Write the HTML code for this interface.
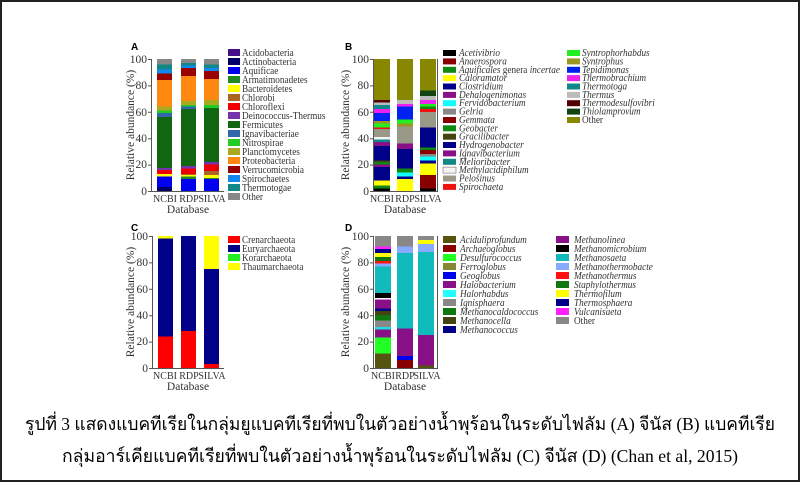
<!DOCTYPE html>
<html><head><meta charset="utf-8"><style>
html,body{margin:0;padding:0;background:#fff}
svg{display:block}
.t{font-family:"Liberation Serif",serif;font-size:11px;fill:#333}
.i{font-style:italic}
.k{font-family:"Liberation Serif",serif;font-size:11.5px;fill:#333}
.x{font-size:10px}
.L{font-family:"Liberation Sans",sans-serif;font-weight:bold;font-size:10px}
</style></head><body>
<svg width="800" height="482" viewBox="0 0 800 482" xmlns="http://www.w3.org/2000/svg">
<rect x="1" y="1" width="798" height="480" fill="#fff" stroke="#222" stroke-width="2"/>

<!-- ============ PANEL A ============ -->
<text class="L" x="131" y="50">A</text>
<g transform="translate(0,191) scale(1,-1.32)" shape-rendering="crispEdges">
<g transform="translate(157,0)">
<rect y="0" height="3" width="15" fill="#000066"/><rect y="3" height="8" width="15" fill="#0000ee"/><rect y="11" height="2" width="15" fill="#ffff00"/><rect y="13" height="3" width="15" fill="#ee0000"/><rect y="16" height="1.5" width="15" fill="#7733aa"/><rect y="17.5" height="38.5" width="15" fill="#116611"/><rect y="56" height="3" width="15" fill="#3366aa"/><rect y="59" height="2" width="15" fill="#22cc22"/><rect y="61" height="3" width="15" fill="#aaaa22"/><rect y="64" height="20" width="15" fill="#ff8811"/><rect y="84" height="5" width="15" fill="#990000"/><rect y="89" height="3" width="15" fill="#1188ee"/><rect y="92" height="4" width="15" fill="#118888"/><rect y="96" height="4" width="15" fill="#888"/>
</g>
<g transform="translate(181,0)">
<rect y="0" height="9" width="15" fill="#0000ee"/><rect y="9" height="2" width="15" fill="#228822"/><rect y="11" height="1" width="15" fill="#ffff00"/><rect y="12" height="1" width="15" fill="#aa6622"/><rect y="13" height="4" width="15" fill="#ee0000"/><rect y="17" height="2" width="15" fill="#7733aa"/><rect y="19" height="43" width="15" fill="#116611"/><rect y="62" height="2" width="15" fill="#3366aa"/><rect y="64" height="1" width="15" fill="#22cc22"/><rect y="65" height="3" width="15" fill="#aaaa22"/><rect y="68" height="19" width="15" fill="#ff8811"/><rect y="87" height="6" width="15" fill="#990000"/><rect y="93" height="2" width="15" fill="#1188ee"/><rect y="95" height="2" width="15" fill="#118888"/><rect y="97" height="3" width="15" fill="#888"/>
</g>
<g transform="translate(204,0)">
<rect y="0" height="9" width="15" fill="#0000ee"/><rect y="9" height="1" width="15" fill="#228822"/><rect y="10" height="2" width="15" fill="#ffff00"/><rect y="12" height="3" width="15" fill="#aa6622"/><rect y="15" height="5" width="15" fill="#ee0000"/><rect y="20" height="2" width="15" fill="#7733aa"/><rect y="22" height="41" width="15" fill="#116611"/><rect y="63" height="2" width="15" fill="#22cc22"/><rect y="65" height="4" width="15" fill="#aaaa22"/><rect y="69" height="16" width="15" fill="#ff8811"/><rect y="85" height="6" width="15" fill="#990000"/><rect y="91" height="2" width="15" fill="#1188ee"/><rect y="93" height="3" width="15" fill="#118888"/><rect y="96" height="4" width="15" fill="#888"/>
</g>
</g>
<g stroke="#555" stroke-width="1" fill="none">
<path d="M151.5 59V191.5H224"/>
<path d="M148 59.5h4M148 85.9h4M148 112.3h4M148 138.7h4M148 165.1h4M148 191.5h4"/>
</g>
<g class="k" text-anchor="end">
<text x="147" y="63">100</text><text x="147" y="89">80</text><text x="147" y="116">60</text><text x="147" y="142">40</text><text x="147" y="168">20</text><text x="147" y="195">0</text>
</g>
<g class="k" text-anchor="middle">
<text class="x" x="165" y="202">NCBI</text><text class="x" x="189" y="202">RDP</text><text class="x" x="212" y="202">SILVA</text><text x="188" y="213">Database</text>
</g>
<text class="k" transform="translate(134,125) rotate(-90)" text-anchor="middle">Relative abundance (%)</text>
<g>
<rect x="228" y="49" width="12" height="7" fill="#441188"/><rect x="228" y="58" width="12" height="7" fill="#000066"/><rect x="228" y="67" width="12" height="7" fill="#0000ee"/><rect x="228" y="76" width="12" height="7" fill="#228822"/><rect x="228" y="85" width="12" height="7" fill="#ffff00"/><rect x="228" y="94" width="12" height="7" fill="#aa6622"/><rect x="228" y="103" width="12" height="7" fill="#ee0000"/><rect x="228" y="112" width="12" height="7" fill="#7733aa"/><rect x="228" y="121" width="12" height="7" fill="#116611"/><rect x="228" y="130" width="12" height="7" fill="#3366aa"/><rect x="228" y="139" width="12" height="7" fill="#22cc22"/><rect x="228" y="148" width="12" height="7" fill="#aaaa22"/><rect x="228" y="157" width="12" height="7" fill="#ff8811"/><rect x="228" y="166" width="12" height="7" fill="#990000"/><rect x="228" y="175" width="12" height="7" fill="#1188ee"/><rect x="228" y="184" width="12" height="7" fill="#118888"/><rect x="228" y="193" width="12" height="7" fill="#888"/>
</g>
<g class="t" transform="translate(242 0) scale(0.84 1) translate(-242 0)">
<text x="242" y="56">Acidobacteria</text><text x="242" y="65">Actinobacteria</text><text x="242" y="74">Aquificae</text><text x="242" y="83">Armatimonadetes</text><text x="242" y="92">Bacteroidetes</text><text x="242" y="101">Chlorobi</text><text x="242" y="110">Chloroflexi</text><text x="242" y="119">Deinococcus-Thermus</text><text x="242" y="128">Fermicutes</text><text x="242" y="137">Ignavibacteriae</text><text x="242" y="146">Nitrospirae</text><text x="242" y="155">Planctomycetes</text><text x="242" y="164">Proteobacteria</text><text x="242" y="173">Verrucomicrobia</text><text x="242" y="182">Spirochaetes</text><text x="242" y="191">Thermotogae</text><text x="242" y="200">Other</text>
</g>

<!-- ============ PANEL B ============ -->
<text class="L" x="345" y="50">B</text>
<g transform="translate(0,191) scale(1,-1.32)" shape-rendering="crispEdges">
<g transform="translate(374,0)">
<rect y="0" height="2" width="16" fill="#000"/><rect y="2" height="2" width="16" fill="#118811"/><rect y="4" height="4" width="16" fill="#ffff00"/><rect y="8" height="10" width="16" fill="#000088"/><rect y="18" height="2" width="16" fill="#881188"/><rect y="20" height="2" width="16" fill="#118811"/><rect y="22" height="1" width="16" fill="#444411"/><rect y="23" height="11" width="16" fill="#000088"/><rect y="34" height="3" width="16" fill="#881188"/><rect y="37" height="2" width="16" fill="#118888"/><rect y="39" height="2" width="16" fill="#f4f4f4"/><rect y="41" height="6" width="16" fill="#999988"/><rect y="47" height="1" width="16" fill="#ee1111"/><rect y="48" height="3" width="16" fill="#22ee22"/><rect y="51" height="2" width="16" fill="#999922"/><rect y="53" height="6" width="16" fill="#0022ee"/><rect y="59" height="3" width="16" fill="#ee22ee"/><rect y="62" height="3" width="16" fill="#118888"/><rect y="65" height="2" width="16" fill="#bbbbbb"/><rect y="67" height="2" width="16" fill="#550000"/><rect y="69" height="31" width="16" fill="#888800"/>
</g>
<g transform="translate(397,0)">
<rect y="0" height="9" width="16" fill="#ffff00"/><rect y="9" height="2" width="16" fill="#000088"/><rect y="11" height="3" width="16" fill="#11ffff"/><rect y="14" height="3" width="16" fill="#118811"/><rect y="17" height="15" width="16" fill="#000088"/><rect y="32" height="4" width="16" fill="#881188"/><rect y="36" height="13" width="16" fill="#999988"/><rect y="49" height="2" width="16" fill="#999922"/><rect y="51" height="3" width="16" fill="#22ee22"/><rect y="54" height="10" width="16" fill="#0022ee"/><rect y="64" height="2" width="16" fill="#ee22ee"/><rect y="66" height="3" width="16" fill="#bbbbbb"/><rect y="69" height="31" width="16" fill="#888800"/>
</g>
<g transform="translate(420,0)">
<rect y="0" height="2" width="16" fill="#000"/><rect y="2" height="10" width="16" fill="#880000"/><rect y="12" height="9" width="16" fill="#ffff00"/><rect y="21" height="2" width="16" fill="#000088"/><rect y="23" height="3" width="16" fill="#11ffff"/><rect y="26" height="2" width="16" fill="#888"/><rect y="28" height="3" width="16" fill="#880000"/><rect y="31" height="2" width="16" fill="#118811"/><rect y="33" height="15" width="16" fill="#000088"/><rect y="48" height="12" width="16" fill="#999988"/><rect y="60" height="2" width="16" fill="#ee1111"/><rect y="62" height="2" width="16" fill="#118811"/><rect y="64" height="2" width="16" fill="#22ee22"/><rect y="66" height="3" width="16" fill="#ee22ee"/><rect y="69" height="3" width="16" fill="#bbbbbb"/><rect y="72" height="4" width="16" fill="#114411"/><rect y="76" height="24" width="16" fill="#888800"/>
</g>
</g>
<g stroke="#555" stroke-width="1" fill="none">
<path d="M373.5 59V191.5H437.5V59"/>
<path d="M370 59.5h4M370 85.9h4M370 112.3h4M370 138.7h4M370 165.1h4M370 191.5h4"/>
</g>
<g class="k" text-anchor="end">
<text x="369" y="63">100</text><text x="369" y="89">80</text><text x="369" y="116">60</text><text x="369" y="142">40</text><text x="369" y="168">20</text><text x="369" y="195">0</text>
</g>
<g class="k" text-anchor="middle">
<text class="x" x="382" y="202">NCBI</text><text class="x" x="405" y="202">RDP</text><text class="x" x="428" y="202">SILVA</text><text x="405" y="213">Database</text>
</g>
<text class="k" transform="translate(349,125) rotate(-90)" text-anchor="middle">Relative abundance (%)</text>
<g>
<rect x="443" y="50" width="13" height="6" fill="#000"/><rect x="443" y="58.4" width="13" height="6" fill="#880000"/><rect x="443" y="66.8" width="13" height="6" fill="#118811"/><rect x="443" y="75.1" width="13" height="6" fill="#ffff00"/><rect x="443" y="83.5" width="13" height="6" fill="#000088"/><rect x="443" y="91.9" width="13" height="6" fill="#881188"/><rect x="443" y="100.2" width="13" height="6" fill="#11ffff"/><rect x="443" y="108.6" width="13" height="6" fill="#888"/><rect x="443" y="117" width="13" height="6" fill="#880000"/><rect x="443" y="125.3" width="13" height="6" fill="#118811"/><rect x="443" y="133.7" width="13" height="6" fill="#444411"/><rect x="443" y="142" width="13" height="6" fill="#000088"/><rect x="443" y="150.4" width="13" height="6" fill="#881188"/><rect x="443" y="158.8" width="13" height="6" fill="#118888"/><rect x="443" y="167.1" width="13" height="6" fill="#f4f4f4" stroke="#555" stroke-width=".5"/><rect x="443" y="175.5" width="13" height="6" fill="#999988"/><rect x="443" y="183.9" width="13" height="6" fill="#ee1111"/>
<rect x="567" y="50" width="13" height="6" fill="#22ee22"/><rect x="567" y="58.4" width="13" height="6" fill="#999922"/><rect x="567" y="66.8" width="13" height="6" fill="#0022ee"/><rect x="567" y="75.1" width="13" height="6" fill="#ee22ee"/><rect x="567" y="83.5" width="13" height="6" fill="#118888"/><rect x="567" y="91.9" width="13" height="6" fill="#bbbbbb"/><rect x="567" y="100.2" width="13" height="6" fill="#550000"/><rect x="567" y="108.6" width="13" height="6" fill="#114411"/><rect x="567" y="117" width="13" height="6" fill="#888800"/>
</g>
<g class="t i" transform="translate(459 0) scale(0.84 1) translate(-459 0)">
<text x="459" y="56">Acetivibrio</text><text x="459" y="64.4">Anaerospora</text><text x="459" y="72.8">Aquificales <tspan font-style="normal">genera</tspan> incertae</text><text x="459" y="81.1">Caloramator</text><text x="459" y="89.5">Clostridium</text><text x="459" y="97.9">Dehalogenimonas</text><text x="459" y="106.2">Fervidobacterium</text><text x="459" y="114.6">Gelria</text><text x="459" y="123">Gemmata</text><text x="459" y="131.3">Geobacter</text><text x="459" y="139.7">Gracilibacter</text><text x="459" y="148">Hydrogenobacter</text><text x="459" y="156.4">Ignavibacterium</text><text x="459" y="164.8">Melioribacter</text><text x="459" y="173.1">Methylacidiphilum</text><text x="459" y="181.5">Pelosinus</text><text x="459" y="189.9">Spirochaeta</text>
</g>
<g class="t i" transform="translate(582 0) scale(0.84 1) translate(-582 0)">
<text x="582" y="56">Syntrophorhabdus</text><text x="582" y="64.4">Syntrophus</text><text x="582" y="72.8">Tepidimonas</text><text x="582" y="81.1">Thermobrachium</text><text x="582" y="89.5">Thermotoga</text><text x="582" y="97.9">Thermus</text><text x="582" y="106.2">Thermodesulfovibri</text><text x="582" y="114.6">Thiolamprovum</text><text x="582" y="123" font-style="normal">Other</text>
</g>

<!-- ============ PANEL C ============ -->
<text class="L" x="131" y="231">C</text>
<g transform="translate(0,368) scale(1,-1.32)" shape-rendering="crispEdges">
<g transform="translate(158,0)"><rect y="0" height="24" width="15" fill="#ff0000"/><rect y="24" height="74" width="15" fill="#000088"/><rect y="98" height="2" width="15" fill="#ffff00"/></g>
<g transform="translate(181,0)"><rect y="0" height="28" width="15" fill="#ff0000"/><rect y="28" height="72" width="15" fill="#000088"/></g>
<g transform="translate(204,0)"><rect y="0" height="3" width="15" fill="#ff0000"/><rect y="3" height="72" width="15" fill="#000088"/><rect y="75" height="25" width="15" fill="#ffff00"/></g>
</g>
<g stroke="#555" stroke-width="1" fill="none">
<path d="M152.5 236V368.5H224"/>
<path d="M149 236.5h4M149 262.9h4M149 289.3h4M149 315.7h4M149 342.1h4M149 368.5h4"/>
</g>
<g class="k" text-anchor="end">
<text x="148" y="240">100</text><text x="148" y="266">80</text><text x="148" y="293">60</text><text x="148" y="319">40</text><text x="148" y="345">20</text><text x="148" y="372">0</text>
</g>
<g class="k" text-anchor="middle">
<text class="x" x="165" y="379">NCBI</text><text class="x" x="189" y="379">RDP</text><text class="x" x="212" y="379">SILVA</text><text x="188" y="390">Database</text>
</g>
<text class="k" transform="translate(134,302) rotate(-90)" text-anchor="middle">Relative abundance (%)</text>
<rect x="228" y="236" width="12" height="7" fill="#ff0000"/><rect x="228" y="245" width="12" height="7" fill="#000088"/><rect x="228" y="254" width="12" height="7" fill="#22ee22"/><rect x="228" y="263" width="12" height="7" fill="#ffff00"/>
<g class="t" transform="translate(242 0) scale(0.84 1) translate(-242 0)"><text x="242" y="243">Crenarchaeota</text><text x="242" y="252">Euryarchaeota</text><text x="242" y="261">Korarchaeota</text><text x="242" y="270">Thaumarchaeota</text></g>

<!-- ============ PANEL D ============ -->
<text class="L" x="345" y="231">D</text>
<g transform="translate(0,368) scale(1,-1.32)" shape-rendering="crispEdges">
<g transform="translate(375,0)">
<rect y="0" height="11" width="16" fill="#555511"/><rect y="11" height="12" width="16" fill="#22ff22"/><rect y="23" height="6" width="16" fill="#881188"/><rect y="29" height="2" width="16" fill="#22dddd"/><rect y="31" height="5" width="16" fill="#888"/><rect y="36" height="4" width="16" fill="#117711"/><rect y="40" height="3" width="16" fill="#444411"/><rect y="43" height="2" width="16" fill="#000088"/><rect y="45" height="7" width="16" fill="#881188"/><rect y="52" height="1" width="16" fill="#fff"/><rect y="53" height="4" width="16" fill="#000"/><rect y="57" height="20" width="16" fill="#11bbbb"/><rect y="77" height="2" width="16" fill="#88aaff"/><rect y="79" height="2" width="16" fill="#ff1111"/><rect y="81" height="3" width="16" fill="#117711"/><rect y="84" height="3" width="16" fill="#ffff00"/><rect y="87" height="3" width="16" fill="#000088"/><rect y="90" height="2" width="16" fill="#ff22ff"/><rect y="92" height="8" width="16" fill="#888"/>
</g>
<g transform="translate(397,0)">
<rect y="0" height="6" width="16" fill="#880000"/><rect y="6" height="3" width="16" fill="#0000ee"/><rect y="9" height="21" width="16" fill="#881188"/><rect y="30" height="57" width="16" fill="#11bbbb"/><rect y="87" height="5" width="16" fill="#88aaff"/><rect y="92" height="8" width="16" fill="#888"/>
</g>
<g transform="translate(418,0)">
<rect y="0" height="2" width="16" fill="#555511"/><rect y="2" height="23" width="16" fill="#881188"/><rect y="25" height="63" width="16" fill="#11bbbb"/><rect y="88" height="6" width="16" fill="#88aaff"/><rect y="94" height="3" width="16" fill="#ffff00"/><rect y="97" height="3" width="16" fill="#888"/>
</g>
</g>
<g stroke="#555" stroke-width="1" fill="none">
<path d="M373.5 236V368.5H437.5V236"/>
<path d="M370 236.5h4M370 262.9h4M370 289.3h4M370 315.7h4M370 342.1h4M370 368.5h4"/>
</g>
<g class="k" text-anchor="end">
<text x="369" y="240">100</text><text x="369" y="266">80</text><text x="369" y="293">60</text><text x="369" y="319">40</text><text x="369" y="345">20</text><text x="369" y="372">0</text>
</g>
<g class="k" text-anchor="middle">
<text class="x" x="383" y="379">NCBI</text><text class="x" x="405" y="379">RDP</text><text class="x" x="427" y="379">SILVA</text><text x="405" y="390">Database</text>
</g>
<text class="k" transform="translate(349,302) rotate(-90)" text-anchor="middle">Relative abundance (%)</text>
<g>
<rect x="443" y="236" width="13" height="7" fill="#555511"/><rect x="443" y="245" width="13" height="7" fill="#880000"/><rect x="443" y="254" width="13" height="7" fill="#22ff22"/><rect x="443" y="263" width="13" height="7" fill="#888833"/><rect x="443" y="272" width="13" height="7" fill="#0000ee"/><rect x="443" y="281" width="13" height="7" fill="#881188"/><rect x="443" y="290" width="13" height="7" fill="#22ffff"/><rect x="443" y="299" width="13" height="7" fill="#888"/><rect x="443" y="308" width="13" height="7" fill="#117711"/><rect x="443" y="317" width="13" height="7" fill="#444411"/><rect x="443" y="326" width="13" height="7" fill="#000088"/>
<rect x="556" y="236" width="13" height="7" fill="#881188"/><rect x="556" y="245" width="13" height="7" fill="#000"/><rect x="556" y="254" width="13" height="7" fill="#11bbbb"/><rect x="556" y="263" width="13" height="7" fill="#88aaff"/><rect x="556" y="272" width="13" height="7" fill="#ff1111"/><rect x="556" y="281" width="13" height="7" fill="#117711"/><rect x="556" y="290" width="13" height="7" fill="#ffff00"/><rect x="556" y="299" width="13" height="7" fill="#000088"/><rect x="556" y="308" width="13" height="7" fill="#ff22ff"/><rect x="556" y="317" width="13" height="7" fill="#888"/>
</g>
<g class="t i" transform="translate(460 0) scale(0.84 1) translate(-460 0)">
<text x="460" y="243">Aciduliprofundum</text><text x="460" y="252">Archaeoglobus</text><text x="460" y="261">Desulfurococcus</text><text x="460" y="270">Ferroglobus</text><text x="460" y="279">Geoglobus</text><text x="460" y="288">Halobacterium</text><text x="460" y="297">Halorhabdus</text><text x="460" y="306">Ignisphaera</text><text x="460" y="315">Methanocaldococcus</text><text x="460" y="324">Methanocella</text><text x="460" y="333">Methanococcus</text>
</g>
<g class="t i" transform="translate(574 0) scale(0.84 1) translate(-574 0)">
<text x="574" y="243">Methanolinea</text><text x="574" y="252">Methanomicrobium</text><text x="574" y="261">Methanosaeta</text><text x="574" y="270">Methanothermobacte</text><text x="574" y="279">Methanothermus</text><text x="574" y="288">Staphylothermus</text><text x="574" y="297">Thermofilum</text><text x="574" y="306">Thermosphaera</text><text x="574" y="315">Vulcanisaeta</text><text x="574" y="324" font-style="normal">Other</text>
</g>

<!-- caption -->
<g font-family="'Liberation Serif','DejaVu Serif',serif" font-size="18" fill="#000">
<text x="25" y="430" textLength="750" lengthAdjust="spacingAndGlyphs">รูปที่ 3 แสดงแบคทีเรียในกลุ่มยูแบคทีเรียที่พบในตัวอย่างน้ำพุร้อนในระดับไฟลัม (A)  จีนัส (B) แบคทีเรีย</text>
<text x="62" y="462" textLength="676" lengthAdjust="spacingAndGlyphs">กลุ่มอาร์เคียแบคทีเรียที่พบในตัวอย่างน้ำพุร้อนในระดับไฟลัม (C) จีนัส (D)  (Chan et al, 2015)</text>
</g>
</svg>
</body></html>
